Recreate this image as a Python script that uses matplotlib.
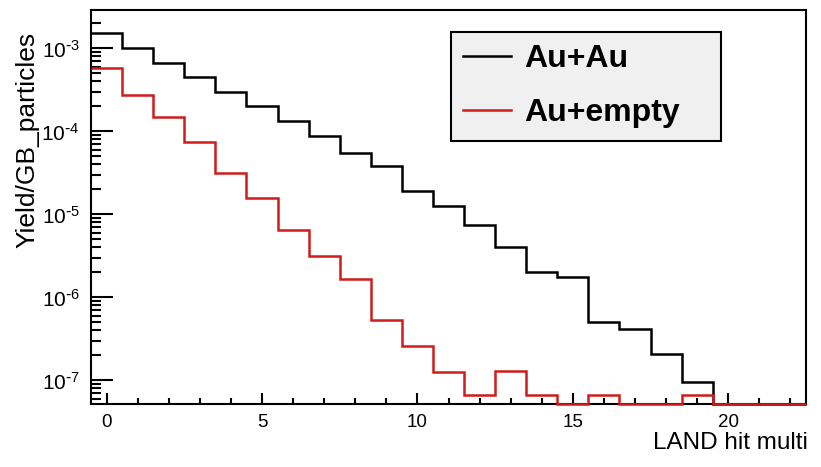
import numpy as np
import matplotlib.pyplot as plt
from matplotlib.lines import Line2D
from matplotlib.ticker import LogLocator, MultipleLocator, NullFormatter, FuncFormatter

plt.rcParams['font.family'] = 'Liberation Sans'
plt.rcParams['mathtext.default'] = 'regular'

# Histogram data (bins centred on 0..22, width 1)
bin_edges = np.arange(-0.5, 23.0, 1.0)
au_au = [1.55e-3, 1.0e-3, 6.7e-4, 4.55e-4, 3.0e-4, 2.0e-4, 1.34e-4, 8.9e-5,
         5.5e-5, 3.8e-5, 1.9e-5, 1.26e-5, 7.4e-6, 4.05e-6, 2.03e-6, 1.77e-6,
         5.0e-7, 4.2e-7, 2.1e-7, 9.6e-8, 0, 0, 0]
au_empty = [5.8e-4, 2.75e-4, 1.5e-4, 7.4e-5, 3.15e-5, 1.57e-5, 6.5e-6, 3.15e-6,
            1.66e-6, 5.3e-7, 2.6e-7, 1.28e-7, 6.6e-8, 1.3e-7, 6.6e-8, 0,
            6.6e-8, 0, 0, 6.6e-8, 0, 0, 0]
labels = ['Au+Au', 'Au+empty']
colors = ['black', '#d01c1c']

y_min, y_max = 5.2e-8, 2.9e-3

fig = plt.figure(figsize=(8.21, 4.67), dpi=100)
ax = fig.add_axes([91/821, 1 - 404/467, 715/821, 394/467])
ax.set_yscale('log')

# empty bins are drawn on the bottom of the frame, like ROOT does
for vals, col in zip([au_au, au_empty], colors):
    v = np.array(vals, dtype=float)
    v = np.where(v > 0, v, y_min)
    ax.stairs(v, bin_edges, baseline=None, color=col, lw=1.8,
              clip_on=False, zorder=3)

ax.set_xlim(-0.5, 22.5)
ax.set_ylim(y_min, y_max)

ax.xaxis.set_major_locator(MultipleLocator(5))
ax.xaxis.set_minor_locator(MultipleLocator(1))
ax.yaxis.set_major_locator(LogLocator(base=10))
ax.yaxis.set_minor_locator(LogLocator(base=10, subs=np.arange(2, 10)))
ax.yaxis.set_minor_formatter(NullFormatter())
ax.yaxis.set_major_formatter(FuncFormatter(
    lambda v, p: r'$10^{\text{-}%d}$' % round(-np.log10(v))))

for s in ax.spines.values():
    s.set_linewidth(1.5)
ax.tick_params(axis='both', which='both', direction='in', width=1.5,
               top=False, right=False)
ax.tick_params(axis='y', which='major', length=16, pad=8, labelsize=15)
ax.tick_params(axis='y', which='minor', length=7.5)
ax.tick_params(axis='x', which='major', length=8, pad=7, labelsize=13.5)
ax.tick_params(axis='x', which='minor', length=4)

fig.text(27/821, 1 - 140/467, 'Yield/GB_particles', rotation=90,
         ha='center', va='center', fontsize=19)
fig.text(808/821, 1 - 443/467, 'LAND hit multi', ha='right', va='center',
         fontsize=17.5)

handles = [Line2D([], [], color=c, lw=1.8) for c in colors]
leg = ax.legend(handles, labels, loc='upper left', mode='expand',
                bbox_to_anchor=(451/821, 1 - 139/467, 270/821, 107/467),
                bbox_transform=fig.transFigure, borderaxespad=0,
                prop={'weight': 'bold', 'size': 23}, fancybox=False,
                handlelength=1.5, handletextpad=0.4, labelspacing=0.76,
                borderpad=0.38)
leg.get_frame().set_facecolor('#f0f0f0')
leg.get_frame().set_edgecolor('black')
leg.get_frame().set_linewidth(1.5)
leg.get_frame().set_alpha(1)

fig.savefig('out.png', dpi=100)
